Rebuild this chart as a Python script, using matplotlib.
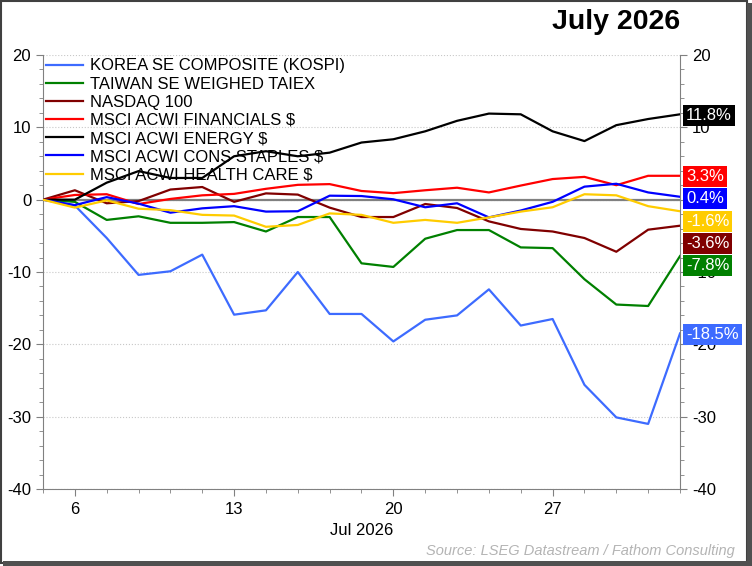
import matplotlib
matplotlib.use('Agg')
import matplotlib.pyplot as plt
import matplotlib.transforms as mtransforms
from matplotlib.ticker import FixedLocator, MultipleLocator
from matplotlib.patches import Rectangle
import pandas as pd

plt.rcParams['font.family'] = ['Liberation Sans', 'DejaVu Sans']
plt.rcParams['axes.unicode_minus'] = False

# business days, 3 Jul - 31 Jul 2026
dates = pd.bdate_range('2026-07-03', '2026-07-31')

names = ['KOREA SE COMPOSITE (KOSPI)', 'TAIWAN SE WEIGHED TAIEX', 'NASDAQ 100',
         'MSCI ACWI FINANCIALS $', 'MSCI ACWI ENERGY $', 'MSCI ACWI CONS STAPLES $',
         'MSCI ACWI HEALTH CARE $']
colors = ['#3d6bff', '#008000', '#800000', '#ff0000', '#000000', '#0000ff', '#ffcc00']

kospi = [0, -0.8, -5.3, -10.4, -9.9, -7.6, -15.9, -15.3, -10.0, -15.8, -15.8,
         -19.6, -16.6, -16.0, -12.4, -17.4, -16.5, -25.6, -30.1, -31.0, -18.5]
taiwan = [0, -0.3, -2.8, -2.3, -3.2, -3.2, -3.1, -4.4, -2.4, -2.4, -8.8,
          -9.3, -5.4, -4.2, -4.2, -6.6, -6.7, -11.0, -14.5, -14.7, -7.8]
nasdaq = [0, 1.3, -0.5, -0.2, 1.4, 1.75, -0.3, 0.87, 0.7, -1.1, -2.4,
          -2.4, -0.6, -1.15, -3.0, -4.05, -4.4, -5.3, -7.2, -4.15, -3.6]
financials = [0, 0.65, 0.75, -0.6, 0.1, 0.6, 0.8, 1.5, 2.05, 2.15, 1.2,
              0.9, 1.3, 1.65, 1.0, 1.95, 2.85, 3.15, 2.0, 3.3, 3.3]
energy = [0, 0, 2.35, 3.95, 3.0, 3.0, 6.0, 6.7, 6.0, 6.5, 7.9,
          8.35, 9.45, 10.9, 11.9, 11.8, 9.45, 8.1, 10.3, 11.15, 11.8]
staples = [0, -0.75, 0.35, -0.55, -1.8, -1.2, -0.9, -1.65, -1.6, 0.55, 0.5,
           0.05, -1.05, -0.5, -2.45, -1.5, -0.3, 1.8, 2.2, 1.0, 0.4]
health = [0, -1.1, -0.1, -1.25, -1.45, -2.1, -2.2, -3.75, -3.5, -1.9, -2.1,
          -3.2, -2.8, -3.2, -2.45, -1.65, -1.05, 0.75, 0.6, -0.9, -1.6]

series = [kospi, taiwan, nasdaq, financials, energy, staples, health]

fig = plt.figure(figsize=(7.52, 5.66), dpi=100)
fig.patch.set_facecolor('white')
ax = fig.add_axes([43/752, 1 - 489/566, (680 - 43)/752, (489 - 55)/566])

x = list(range(len(dates)))
for s, name, c in zip(series, names, colors):
    ax.plot(x, s, color=c, lw=1.6, label=name, zorder=3)

ax.set_xlim(0, len(dates) - 1)
ax.set_ylim(-40, 20)
ax.axhline(0, color='#808080', lw=1.6, zorder=2)
ax.yaxis.set_major_locator(MultipleLocator(10))
ax.yaxis.set_minor_locator(MultipleLocator(2))
ax.grid(axis='y', which='major', linestyle=':', color='#c8c8c8', lw=0.8)

mondays = [i for i, d in enumerate(dates) if d.weekday() == 0]
ax.xaxis.set_major_locator(FixedLocator(mondays))
ax.set_xticklabels([str(dates[i].day) for i in mondays])
ax.xaxis.set_minor_locator(FixedLocator(x))
ax.set_xlabel('Jul 2026', fontsize=12, labelpad=5)

for sp in ['left', 'right', 'bottom']:
    ax.spines[sp].set_color('#808080')
ax.spines['top'].set_visible(False)
ax.tick_params(axis='both', which='both', direction='out', color='#808080', labelsize=12)
ax.tick_params(axis='y', which='both', left=True, right=True, labelleft=True, labelright=True)
ax.tick_params(which='major', length=5)
ax.tick_params(which='minor', length=3)
ax.tick_params(axis='x', which='major', pad=4)

leg = ax.legend(loc='upper left', frameon=False, fontsize=12, handlelength=2.2,
                handletextpad=0.4, labelspacing=0.19, borderaxespad=0.1,
                borderpad=0.1)

# end-value labels on the right, spread so boxes do not overlap
final = [s[-1] for s in series]
order = sorted(range(len(final)), key=lambda i: -final[i])
gap = 3.05
ypos = {}
prev = None
for i in order:
    y = final[i] - 0.15
    if prev is not None and prev - y < gap:
        y = prev - gap
    ypos[i] = y
    prev = y

trans = mtransforms.blended_transform_factory(ax.transAxes, ax.transData)
for i in range(len(series)):
    ax.text(1.0 + 6/637, ypos[i], f'{final[i]:.1f}%', transform=trans,
            ha='left', va='center', fontsize=12, color='white', zorder=6,
            clip_on=False,
            bbox=dict(boxstyle='square,pad=0.18', facecolor=colors[i],
                      edgecolor='none'))

fig.text(616/752, 1 - 22/566, 'July 2026', ha='center', va='center',
         fontsize=20.5, fontweight='bold')
fig.text(735/752, 1 - 551/566, 'Source: LSEG Datastream / Fathom Consulting',
         ha='right', va='center', fontsize=10.5, style='italic', color='#b4b4b4')

# frame with shadow
fig.patches.append(Rectangle((0.001, 0.006), 0.992, 0.992, transform=fig.transFigure,
                             fill=False, edgecolor='#404040', lw=1.5))
fig.patches.append(Rectangle((0.993, 0.0), 0.007, 0.995, transform=fig.transFigure,
                             facecolor='#505050', edgecolor='none'))
fig.patches.append(Rectangle((0.004, 0.0), 0.996, 0.008, transform=fig.transFigure,
                             facecolor='#505050', edgecolor='none'))

fig.savefig('out.png', dpi=100, facecolor='white')
